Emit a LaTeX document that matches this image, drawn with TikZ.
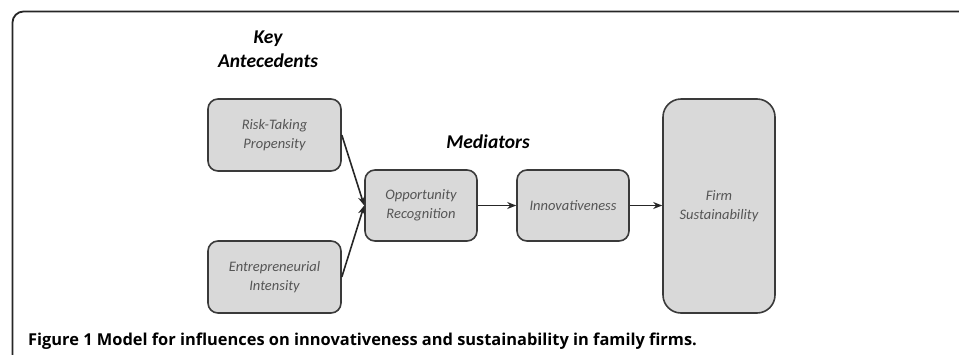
\documentclass[tikz,border=0pt]{standalone}
\usepackage{fontspec}
\setmainfont{Carlito}
\newfontfamily\capfont{Open Sans}
\usetikzlibrary{arrows.meta}
\definecolor{boxfill}{HTML}{D9D9D9}
\definecolor{boxline}{HTML}{3A3A3A}
\definecolor{boxtext}{HTML}{555555}
\tikzset{
  modelbox/.style={draw=boxline, fill=boxfill, line width=1.6pt, rounded corners=10pt,
    font=\fontsize{14.5}{19}\selectfont\itshape, text=boxtext, align=center, inner sep=0pt},
  heading/.style={font=\fontsize{19.5}{24}\selectfont\bfseries\itshape, align=center, inner sep=0pt},
  link/.style={line width=1.6pt, draw=black!85, -{Stealth[length=9pt,width=7pt]}}
}
\begin{document}
\begin{tikzpicture}[x=1pt,y=-1pt]
\useasboundingbox (0,0) rectangle (959,354);
% outer frame
\draw[line width=1.8pt, draw=black!85, rounded corners=11pt] (12.5,365) -- (12.5,11.5) -- (975,11.5);
% headings
\node[heading] (keyhead) at (268,49) {Key\\Antecedents};
\node[heading] (medhead) at (488,142) {Mediators};
% boxes
\node[modelbox, minimum width=133pt, minimum height=72pt] (risk) at (274.5,135) {Risk-Taking\\Propensity};
\node[modelbox, minimum width=133pt, minimum height=72pt] (entre) at (274.5,277) {Entrepreneurial\\Intensity};
\node[modelbox, minimum width=112pt, minimum height=71pt] (opp) at (421,205.5) {Opportunity\\Recognition};
\node[modelbox, minimum width=112pt, minimum height=71pt] (innov) at (573,205.5) {Innovativeness};
\node[modelbox, minimum width=112pt, minimum height=214pt, rounded corners=18pt] (firm) at (719,206) {Firm\\Sustainability};
% connectors
\draw[link] (risk.east) -- (opp.west);
\draw[link] (entre.east) -- (opp.west);
\draw[link] (opp.east) -- (innov.west);
\draw[link] (innov.east) -- (firm.west |- innov.east);
% caption
\node[anchor=base west, inner sep=0pt, font=\capfont\fontsize{16.4}{18}\selectfont\bfseries] (caption) at (28,345) {Figure 1 Model for influences on innovativeness and sustainability in family firms.};
\end{tikzpicture}
\end{document}
